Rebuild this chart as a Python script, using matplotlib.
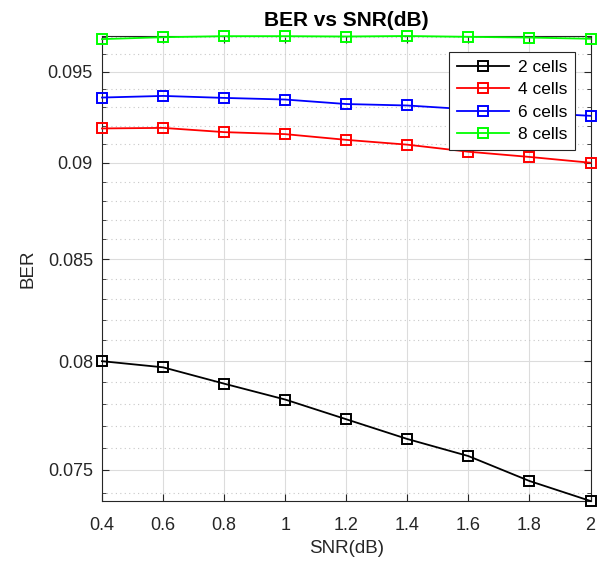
import numpy as np
import matplotlib.pyplot as plt
from matplotlib.ticker import MultipleLocator, FixedLocator, FuncFormatter, NullFormatter

plt.rcParams['font.family'] = ['Liberation Sans', 'DejaVu Sans']

snr = [0.4, 0.6, 0.8, 1.0, 1.2, 1.4, 1.6, 1.8, 2.0]
ber_2 = [0.08000, 0.07971, 0.07894, 0.07820, 0.07729, 0.07639, 0.07562, 0.07451, 0.07363]
ber_4 = [0.09185, 0.09188, 0.09165, 0.09154, 0.09123, 0.09097, 0.09059, 0.09031, 0.09000]
ber_6 = [0.09355, 0.09364, 0.09353, 0.09344, 0.09319, 0.09311, 0.09290, 0.09272, 0.09254]
ber_8 = [0.09685, 0.09696, 0.09702, 0.09702, 0.09700, 0.09703, 0.09698, 0.09694, 0.09687]
labels = ['2 cells', '4 cells', '6 cells', '8 cells']
colors = ['#000000', '#ff0000', '#0000ff', '#00ff00']
yticks = [0.075, 0.08, 0.085, 0.09, 0.095]

fig = plt.figure(figsize=(6.0, 5.61), dpi=100)
ax = fig.add_axes([102/600, 1 - 501/561, 488.5/600, 465/561])

for y, lab, c in zip([ber_2, ber_4, ber_6, ber_8], labels, colors):
    ax.plot(snr, y, '-s', color=c, lw=1.3, ms=7, mfc='none', mew=1.4, label=lab, clip_on=False, zorder=3)

allv = ber_2 + ber_4 + ber_6 + ber_8
ax.set_yscale('log')
ax.set_xlim(0.4, 2.0)
ax.set_ylim(min(allv), max(allv))
ax.xaxis.set_major_locator(MultipleLocator(0.2))
ax.yaxis.set_major_locator(FixedLocator(yticks))
ax.yaxis.set_minor_locator(FixedLocator(np.arange(0.073, 0.0975, 0.001)))
ax.xaxis.set_major_formatter(FuncFormatter(lambda v, p: '%g' % round(v, 2)))
ax.yaxis.set_major_formatter(FuncFormatter(lambda v, p: '%g' % round(v, 4)))
ax.yaxis.set_minor_formatter(NullFormatter())

ax.grid(True, which='major', color='#dcdcdc', lw=0.8)
ax.grid(True, which='minor', axis='y', color='#c8c8c8', lw=0.8, ls=(0, (1, 3)))
ax.tick_params(which='both', direction='in', top=True, right=True, labelsize=13, colors='#262626')
ax.tick_params(which='minor', length=3)
ax.tick_params(which='major', length=5)
ax.tick_params(axis='x', which='major', pad=11.5)
ax.tick_params(axis='y', which='major', pad=6.5)
for s in ax.spines.values():
    s.set_color('#262626')
    s.set_linewidth(0.8)

ax.set_title('BER vs SNR(dB)', fontsize=15, fontweight='bold', pad=7)
ax.set_xlabel('SNR(dB)', fontsize=13.5, color='#262626', labelpad=4)
ax.set_ylabel('BER', fontsize=13.5, color='#262626', labelpad=8)

leg = ax.legend(loc='upper right', bbox_to_anchor=(0.968, 0.966), borderaxespad=0, fontsize=12.5,
                handlelength=3.0, fancybox=False, framealpha=1, edgecolor='#262626', borderpad=0.45,
                labelspacing=0.42, handletextpad=0.5)
leg.get_frame().set_linewidth(0.8)

plt.savefig('out.png')
